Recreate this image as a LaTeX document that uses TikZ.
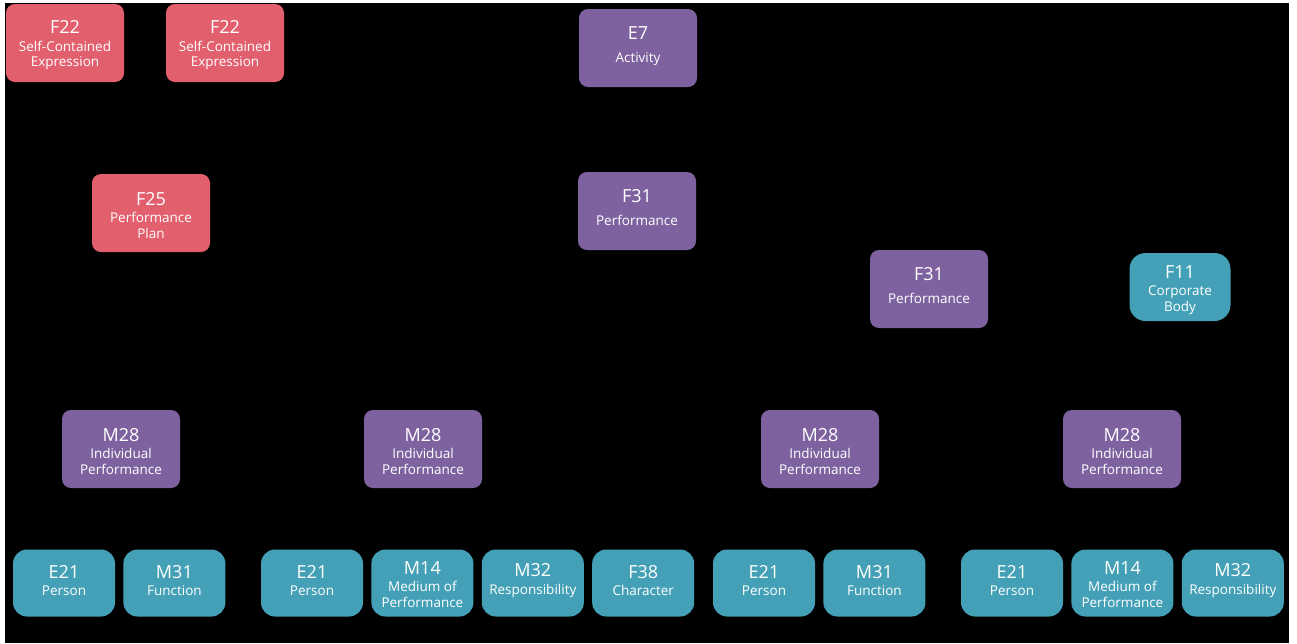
\documentclass[tikz,border=0pt]{standalone}
\usepackage{fontspec}
\setmainfont{Open Sans}
\usetikzlibrary{positioning}

\definecolor{exprred}{HTML}{E25F6E}
\definecolor{perfpurple}{HTML}{7E62A0}
\definecolor{agentteal}{HTML}{44A0B6}

% [title height] {title} {subtitle}
\newcommand{\boxlabel}[3][18pt]{{\fontsize{18}{20}\selectfont\raisebox{0pt}[#1][0pt]{#2}}\\[2pt]#3}
\newcommand{\midline}[1]{\raisebox{-6pt}[0pt][0pt]{#1}\\\phantom{A}}

\tikzset{
  box/.style={rounded corners=9pt, text=white, align=center, inner sep=0pt,
    font=\fontsize{13.5}{15.5}\selectfont,
    minimum width=118pt, minimum height=78pt},
  expr/.style={box, fill=exprred},
  perf/.style={box, fill=perfpurple},
  agent/.style={box, fill=agentteal, rounded corners=14pt,
    minimum width=102pt, minimum height=67pt}
}

\begin{document}
\begin{tikzpicture}[x=1pt,y=-1pt,node distance=8pt]
  \useasboundingbox (0,0) rectangle (1297,643);
  \fill[white] (0,0) rectangle (1297,643);
  \fill[black] (5,3) rectangle (1289,643);

  % top
  \node[expr] (F22a) at (65,43)  {\boxlabel{F22}{Self-Contained\\Expression}};
  \node[expr] (F22b) at (225,43) {\boxlabel{F22}{Self-Contained\\Expression}};
  \node[perf] (E7)   at (638,48) {\boxlabel[15pt]{E7}{\midline{Activity}}};

  % middle
  \node[expr] (F25)  at (151,213) {\boxlabel{F25}{Performance\\Plan}};
  \node[perf] (F31a) at (637,211) {\boxlabel[15pt]{F31}{\midline{Performance}}};
  \node[perf] (F31b) at (929,289) {\boxlabel[15pt]{F31}{\midline{Performance}}};
  \node[agent, minimum width=101pt, minimum height=68pt, rounded corners=16pt]
              (F11)  at (1180,287) {\boxlabel[19pt]{F11}{Corporate\\Body}};

  % individual performances
  \node[perf] (M28a) at (121,449)  {\boxlabel{M28}{Individual\\Performance}};
  \node[perf] (M28b) at (423,449)  {\boxlabel{M28}{Individual\\Performance}};
  \node[perf] (M28c) at (820,449)  {\boxlabel{M28}{Individual\\Performance}};
  \node[perf] (M28d) at (1122,449) {\boxlabel{M28}{Individual\\Performance}};

  % bottom row
  \node[agent] (E21a) at (64,583)      {\boxlabel[8pt]{E21}{Person}};
  \node[agent] (M31a) [right=of E21a]  {\boxlabel[8pt]{M31}{Function}};

  \node[agent] (E21b) at (312,583)     {\boxlabel[8pt]{E21}{Person}};
  \node[agent] (M14a) [right=of E21b]  {\boxlabel[16pt]{M14}{Medium of\\Performance}};
  \node[agent] (M32a) [right=of M14a]  {\boxlabel[8pt]{M32}{Responsibility}};
  \node[agent] (F38)  [right=of M32a]  {\boxlabel[8pt]{F38}{Character}};

  \node[agent] (E21c) at (764,583)     {\boxlabel[8pt]{E21}{Person}};
  \node[agent] (M31b) [right=of E21c]  {\boxlabel[8pt]{M31}{Function}};

  \node[agent] (E21d) at (1012,583)    {\boxlabel[8pt]{E21}{Person}};
  \node[agent] (M14b) [right=of E21d]  {\boxlabel[16pt]{M14}{Medium of\\Performance}};
  \node[agent] (M32b) [right=of M14b]  {\boxlabel[8pt]{M32}{Responsibility}};
\end{tikzpicture}
\end{document}
